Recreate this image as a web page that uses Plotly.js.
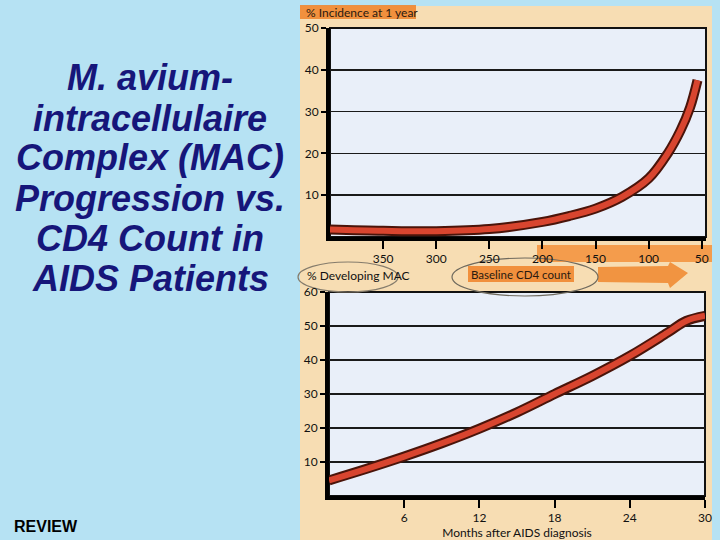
<!DOCTYPE html>
<html>
<head>
<meta charset="utf-8">
<script src="https://cdn.plot.ly/plotly-3.0.1.min.js"></script>
<style>
  html, body { margin: 0; padding: 0; background: #b6e2f3; }
  #chart { width: 720px; height: 540px; }
</style>
</head>
<body>
<div id="chart"></div>
<script>
// ---- Data ----
// Top panel: % incidence of MAC at 1 year vs baseline CD4 count
const cd4Count = [400, 350, 300, 250, 200, 175, 150, 125, 100, 82, 70, 61, 54];
const incidence1yr = [1.8, 1.5, 1.4, 1.9, 3.6, 5.0, 6.8, 9.6, 14.0, 20.0, 25.5, 31.0, 37.5];
const cd4Ticks = [350, 300, 250, 200, 150, 100, 50];

// Bottom panel: % developing MAC vs months after AIDS diagnosis
const monthsAfterDx = [0, 3, 6, 9, 12, 15, 18, 21, 24, 27, 28.5, 30];
const pctDevelopingMAC = [4.6, 8.0, 11.6, 15.5, 19.8, 24.6, 30.0, 35.3, 41.2, 48.0, 51.5, 53.0];
const monthTicks = [6, 12, 18, 24, 30];

const topYTicks = [10, 20, 30, 40, 50];
const bottomYTicks = [10, 20, 30, 40, 50, 60];

const titleLines = ["M. avium-", "intracellulaire", "Complex (MAC)", "Progression vs.", "CD4 Count in", "AIDS Patients"];

// ---- Helpers: pixel -> paper fraction (margins are zero) ----
const W = 720, H = 540;
const px = v => v / W;
const py = v => 1 - v / H;

const chartFont = "Lato, 'Open Sans', sans-serif";
const outline = '#4a140a';
const red = '#d8452f';
const peach = '#f7ddb3';
const plotFill = '#e9eff9';
const orange = 'rgba(240,130,40,0.85)';

const traces = [
  { x: cd4Count, y: incidence1yr, xaxis: 'x', yaxis: 'y', mode: 'lines',
    line: { color: outline, width: 10, shape: 'spline', smoothing: 1 }, hoverinfo: 'skip' },
  { x: cd4Count, y: incidence1yr, xaxis: 'x', yaxis: 'y', mode: 'lines',
    line: { color: red, width: 6, shape: 'spline', smoothing: 1 } },
  { x: monthsAfterDx, y: pctDevelopingMAC, xaxis: 'x2', yaxis: 'y2', mode: 'lines',
    line: { color: outline, width: 10, shape: 'spline', smoothing: 1 }, hoverinfo: 'skip' },
  { x: monthsAfterDx, y: pctDevelopingMAC, xaxis: 'x2', yaxis: 'y2', mode: 'lines',
    line: { color: red, width: 6, shape: 'spline', smoothing: 1 } }
];

const axisCommon = {
  showline: true, linecolor: '#000', linewidth: 4,
  ticks: 'outside', tickcolor: '#000', tickwidth: 2,
  tickfont: { family: chartFont, size: 12, color: '#111' },
  zeroline: false, fixedrange: true
};

const layout = {
  width: W, height: H,
  margin: { l: 0, r: 0, t: 0, b: 0 },
  paper_bgcolor: '#b6e2f3',
  plot_bgcolor: 'rgba(0,0,0,0)',
  showlegend: false,
  xaxis: Object.assign({}, axisCommon, {
    domain: [px(330), px(706)], anchor: 'y',
    range: [400, 46], tickvals: cd4Ticks, ticklen: 8, showgrid: false
  }),
  yaxis: Object.assign({}, axisCommon, {
    domain: [py(237), py(28)], anchor: 'x',
    range: [0, 50], tickvals: topYTicks, ticklen: 5,
    showgrid: true, gridcolor: '#1a1a1a', gridwidth: 1.5
  }),
  xaxis2: Object.assign({}, axisCommon, {
    domain: [px(329), px(705)], anchor: 'y2',
    range: [0, 30], tickvals: monthTicks, ticklen: 8, showgrid: false,
    title: { text: 'Months after AIDS diagnosis', standoff: 4,
             font: { family: chartFont, size: 12, color: '#111' } }
  }),
  yaxis2: Object.assign({}, axisCommon, {
    domain: [py(496), py(292)], anchor: 'x2',
    range: [0, 60], tickvals: bottomYTicks, ticklen: 5,
    showgrid: true, gridcolor: '#1a1a1a', gridwidth: 1.5
  }),
  shapes: [
    // scanned figure backdrop
    { type: 'rect', xref: 'paper', yref: 'paper', layer: 'below',
      x0: px(300), x1: px(712), y0: py(540), y1: py(6),
      fillcolor: peach, line: { width: 0 } },
    // plot area fills with thin frame
    { type: 'rect', xref: 'paper', yref: 'paper', layer: 'below',
      x0: px(330), x1: px(706), y0: py(237), y1: py(28),
      fillcolor: plotFill, line: { color: '#111', width: 2 } },
    { type: 'rect', xref: 'paper', yref: 'paper', layer: 'below',
      x0: px(329), x1: px(705), y0: py(496), y1: py(292),
      fillcolor: plotFill, line: { color: '#111', width: 2 } },
    // orange highlights
    { type: 'rect', xref: 'paper', yref: 'paper', layer: 'below',
      x0: px(300), x1: px(416), y0: py(19), y1: py(5),
      fillcolor: orange, line: { width: 0 } },
    { type: 'rect', xref: 'paper', yref: 'paper', layer: 'below',
      x0: px(537), x1: px(712), y0: py(262), y1: py(245),
      fillcolor: 'rgba(242,140,50,0.8)', line: { width: 0 } },
    { type: 'rect', xref: 'paper', yref: 'paper', layer: 'below',
      x0: px(468), x1: px(574), y0: py(282), y1: py(266),
      fillcolor: orange, line: { width: 0 } },
    { type: 'path', xref: 'paper', yref: 'paper', layer: 'below',
      path: 'M ' + px(598) + ',' + py(267) + ' L ' + px(668) + ',' + py(266) +
            ' L ' + px(670) + ',' + py(262) + ' L ' + px(688) + ',' + py(273) +
            ' L ' + px(670) + ',' + py(288) + ' L ' + px(668) + ',' + py(283) +
            ' L ' + px(598) + ',' + py(282) + ' Z',
      fillcolor: 'rgba(240,135,45,0.85)', line: { width: 0 } },
    // hand-drawn ellipses
    { type: 'circle', xref: 'paper', yref: 'paper', layer: 'below',
      x0: px(298), x1: px(398), y0: py(292), y1: py(262),
      line: { color: '#857c6c', width: 1.2 } },
    { type: 'circle', xref: 'paper', yref: 'paper', layer: 'below',
      x0: px(452), x1: px(598), y0: py(296), y1: py(258),
      line: { color: '#6f6a5e', width: 1.2 } }
  ],
  annotations: [
    { xref: 'paper', yref: 'paper', x: px(304), y: py(12), xanchor: 'left', yanchor: 'middle',
      text: '% Incidence at 1 year', showarrow: false,
      font: { family: chartFont, size: 12, color: '#2a1a10' } },
    { xref: 'paper', yref: 'paper', x: px(305), y: py(275), xanchor: 'left', yanchor: 'middle',
      text: '% Developing MAC', showarrow: false,
      font: { family: chartFont, size: 12, color: '#111' } },
    { xref: 'paper', yref: 'paper', x: px(521), y: py(274), xanchor: 'center', yanchor: 'middle',
      text: 'Baseline CD4 count', showarrow: false,
      font: { family: chartFont, size: 11.5, color: '#2a1a10' } },
    { xref: 'paper', yref: 'paper', x: px(12), y: py(526), xanchor: 'left', yanchor: 'middle',
      text: '<b>REVIEW</b>', showarrow: false,
      font: { family: "'Liberation Sans', Arial, sans-serif", size: 16, color: '#000' } }
  ]
};

titleLines.forEach((t, i) => {
  layout.annotations.push({
    xref: 'paper', yref: 'paper', x: px(150), y: py(78 + 40 * i),
    xanchor: 'center', yanchor: 'middle', showarrow: false,
    text: '<b><i>' + t + '</i></b>',
    font: { family: "'Liberation Sans', Arial, sans-serif", size: 36, color: '#16167a' }
  });
});

Plotly.newPlot('chart', traces, layout, { displayModeBar: false, staticPlot: true });
</script>
</body>
</html>
